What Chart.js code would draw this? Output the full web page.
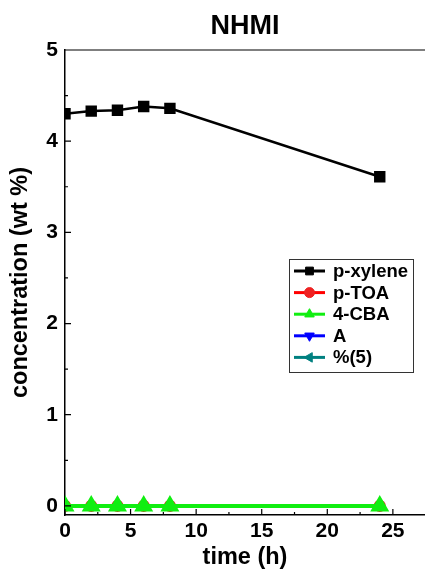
<!DOCTYPE html>
<html>
<head>
<meta charset="utf-8">
<script src="https://cdn.jsdelivr.net/npm/chart.js@4.4.1/dist/chart.umd.min.js"></script>
<style>
    html, body { margin: 0; padding: 0; background: #fff; }
    #wrap { width: 425px; height: 571px; }
</style>
</head>
<body>
<div id="wrap"><canvas id="nhmiChart" width="425" height="571"></canvas></div>
<script>
// values
const timeH = [0, 2, 4, 6, 8, 24];
const pXylene = [4.30, 4.33, 4.34, 4.38, 4.36, 3.61];
const pToa = [0, 0, 0, 0, 0, 0];
const cba4 = [0, 0, 0, 0, 0, 0];
const aSeries = [];
const pct5 = [];

const xTicks = [0, 5, 10, 15, 20, 25];
const xMinorTicks = [2.5, 7.5, 12.5, 17.5, 22.5];
const yTicks = [0, 1, 2, 3, 4, 5];
const yMinorTicks = [0.5, 1.5, 2.5, 3.5, 4.5];

const FONT = "'Liberation Sans', Arial, sans-serif";

const toPoints = (ys) => ys.map((y, i) => ({ x: timeH[i], y: y }));

// inward tick marks + top frame line
const frameTicks = {
    id: 'frameTicks',
    afterDraw(chart) {
        const { ctx, chartArea } = chart;
        const xs = chart.scales.x, ys = chart.scales.y;
        ctx.save();
        ctx.strokeStyle = '#000';
        ctx.lineWidth = 1.2;
        ctx.beginPath();
        ctx.moveTo(chartArea.left, chartArea.top);
        ctx.lineTo(chartArea.right, chartArea.top);
        xTicks.forEach(v => {
            const px = xs.getPixelForValue(v);
            ctx.moveTo(px, chartArea.bottom);
            ctx.lineTo(px, chartArea.bottom - 6);
        });
        xMinorTicks.forEach(v => {
            const px = xs.getPixelForValue(v);
            ctx.moveTo(px, chartArea.bottom);
            ctx.lineTo(px, chartArea.bottom - 3);
        });
        yTicks.forEach(v => {
            const py = ys.getPixelForValue(v);
            ctx.moveTo(chartArea.left, py);
            ctx.lineTo(chartArea.left + 6, py);
        });
        yMinorTicks.forEach(v => {
            const py = ys.getPixelForValue(v);
            ctx.moveTo(chartArea.left, py);
            ctx.lineTo(chartArea.left + 3, py);
        });
        ctx.stroke();
        ctx.restore();
    }
};

// boxed legend inside the plot, like the original
const boxLegend = {
    id: 'boxLegend',
    afterDraw(chart) {
        const { ctx, chartArea } = chart;
        const left = chartArea.right - 136, top = chartArea.top + 209;
        const w = 124, h = 113, rowH = 21.6;
        ctx.save();
        ctx.strokeStyle = '#333';
        ctx.lineWidth = 1;
        ctx.fillStyle = '#fff';
        ctx.fillRect(left, top, w, h);
        ctx.strokeRect(left + 0.5, top + 0.5, w, h);
        chart.data.datasets.forEach((ds, i) => {
            const y = top + 12 + i * rowH;
            ctx.strokeStyle = ds.borderColor;
            ctx.lineWidth = 3;
            ctx.beginPath();
            ctx.moveTo(left + 5, y);
            ctx.lineTo(left + 36, y);
            ctx.stroke();
            ctx.fillStyle = ds.pointBackgroundColor;
            ctx.strokeStyle = ds.pointBorderColor;
            ctx.lineWidth = 1;
            Chart.helpers.drawPoint(ctx, {
                pointStyle: ds.pointStyle,
                radius: ds.legendRadius,
                rotation: ds.pointRotation || 0,
                borderWidth: 1
            }, left + 20.5, y);
            ctx.fillStyle = '#000';
            ctx.font = 'bold 18.5px ' + FONT;
            ctx.textBaseline = 'middle';
            ctx.textAlign = 'left';
            ctx.fillText(ds.label, left + 44, y + 1);
        });
        ctx.restore();
    }
};

new Chart(document.getElementById('nhmiChart').getContext('2d'), {
    type: 'line',
    data: {
        datasets: [{
            label: 'p-xylene',
            data: toPoints(pXylene),
            borderColor: '#000',
            borderWidth: 2.5,
            pointStyle: 'rect',
            pointRadius: 6.3,
            legendRadius: 5.5,
            pointBackgroundColor: '#000',
            pointBorderColor: '#000',
            order: 0
        },
        {
            label: 'p-TOA',
            data: toPoints(pToa),
            borderColor: '#ff0000',
            borderWidth: 2.5,
            pointStyle: 'circle',
            pointRadius: 4.8,
            legendRadius: 5,
            pointBackgroundColor: '#ee2222',
            pointBorderColor: '#ee2222',
            order: 2
        },
        {
            label: '4-CBA',
            data: toPoints(cba4),
            borderColor: '#11ee11',
            borderWidth: 4,
            pointStyle: 'triangle',
            pointRadius: 7,
            legendRadius: 5.5,
            pointBackgroundColor: '#11ee11',
            pointBorderColor: '#11ee11',
            order: 1
        },
        {
            label: 'A',
            data: aSeries,
            borderColor: '#0000ff',
            borderWidth: 2.5,
            pointStyle: 'triangle',
            pointRotation: 180,
            pointRadius: 6,
            legendRadius: 5.5,
            pointBackgroundColor: '#0000ff',
            pointBorderColor: '#0000ff',
            order: 3
        },
        {
            label: '%(5)',
            data: pct5,
            borderColor: '#008080',
            borderWidth: 2.5,
            pointStyle: 'triangle',
            pointRotation: -90,
            pointRadius: 6,
            legendRadius: 5.5,
            pointBackgroundColor: '#008080',
            pointBorderColor: '#008080',
            order: 4
        }]
    },
    options: {
        responsive: false,
        animation: false,
        events: [],
        layout: {
            autoPadding: false,
            padding: { left: 0, right: 0, top: 0, bottom: 0 }
        },
        plugins: {
            legend: { display: false },
            tooltip: { enabled: false },
            title: {
                display: true,
                text: 'NHMI',
                fullSize: false,
                color: '#000',
                font: { family: FONT, size: 27, weight: 'bold' },
                padding: { top: 10, bottom: 7.6 }
            }
        },
        scales: {
            x: {
                type: 'linear',
                min: 0,
                max: 27.45,
                afterFit: (s) => { s.height = 56; s.paddingLeft = 0; s.paddingRight = 0; },
                afterBuildTicks: (s) => { s.ticks = xTicks.map(v => ({ value: v })); },
                border: { display: true, color: '#000', width: 1.5 },
                grid: { display: false, drawTicks: false },
                ticks: {
                    color: '#000',
                    padding: 4,
                    maxRotation: 0,
                    font: { family: FONT, size: 21, weight: 'bold' }
                },
                title: {
                    display: true,
                    text: 'time (h)',
                    color: '#000',
                    font: { family: FONT, size: 23.5, weight: 'bold' },
                    padding: { top: 0, bottom: -1 }
                }
            },
            y: {
                type: 'linear',
                min: -0.1,
                max: 5,
                afterFit: (s) => { s.width = 65; s.paddingTop = 0; s.paddingBottom = 0; },
                afterBuildTicks: (s) => { s.ticks = yTicks.map(v => ({ value: v })); },
                border: { display: true, color: '#000', width: 1.5 },
                grid: { display: false, drawTicks: false },
                ticks: {
                    color: '#000',
                    padding: 7,
                    font: { family: FONT, size: 21, weight: 'bold' }
                },
                title: {
                    display: true,
                    text: 'concentration (wt %)',
                    color: '#000',
                    font: { family: FONT, size: 23.5, weight: 'bold' },
                    padding: { top: 6, bottom: 0 }
                }
            }
        }
    },
    plugins: [frameTicks, boxLegend]
});
</script>
</body>
</html>
